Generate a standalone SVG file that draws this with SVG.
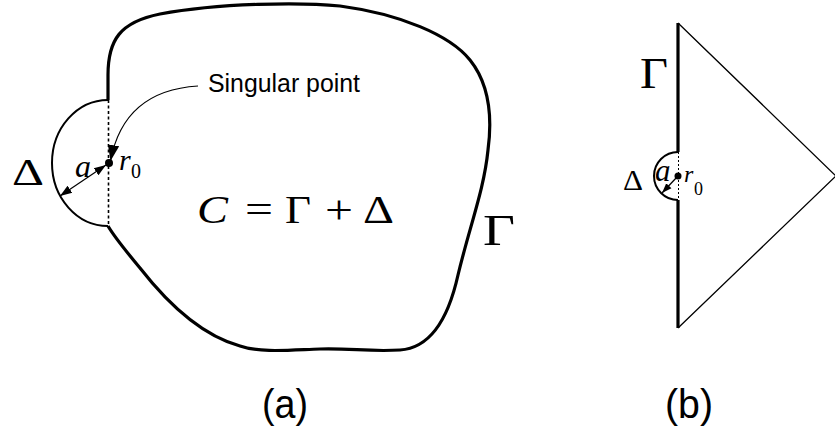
<svg xmlns="http://www.w3.org/2000/svg" width="835" height="435" viewBox="0 0 835 435">
<style>
.thick{fill:none;stroke:#000;stroke-width:3.2;stroke-linejoin:round}
.arc{fill:none;stroke:#000;stroke-width:2}
.dash{fill:none;stroke:#000;stroke-width:1.6;stroke-dasharray:3 2.5}
.dashb{fill:none;stroke:#000;stroke-width:1;stroke-dasharray:2 2}
.thin{fill:none;stroke:#000;stroke-width:1.3}
.ptr{fill:none;stroke:#000;stroke-width:1.2}
.serif{font-family:"Liberation Serif",serif;fill:#000}
.it{font-style:italic}
.sans{font-family:"Liberation Sans",Arial,sans-serif;fill:#000}
</style>
<defs>
<marker id="ah" markerUnits="userSpaceOnUse" markerWidth="16" markerHeight="12" viewBox="0 0 14 10" refX="14" refY="5" orient="auto-start-reverse">
<path d="M0,0 L14,5 L0,10 z" fill="#000"/>
</marker>
<marker id="ah2" markerUnits="userSpaceOnUse" markerWidth="12" markerHeight="10" viewBox="0 0 14 10" refX="14" refY="5" orient="auto-start-reverse">
<path d="M0,0 L14,5 L0,10 z" fill="#000"/>
</marker>
<marker id="ahb" markerUnits="userSpaceOnUse" markerWidth="10" markerHeight="9" viewBox="0 0 14 10" refX="14" refY="5" orient="auto">
<path d="M0,0 L14,5 L0,10 z" fill="#000"/>
</marker>
</defs>

<g id="figure-a">
<g id="boundary-gamma">
<path class="thick" d="M108,100 L108,75 C108,40 120,22 160,14 C220,3 300,2 340,6 C400,14 450,35 470,60 C490,85 492,120 488,150 C484,190 470,225 458,275 C448,320 430,348 400,350 C370,352 350,348 320,349 C290,350 260,353 240,346 C200,335 165,300 140,268 C125,250 115,238 108,226"/>
</g>
<g id="delta-arc">
<path class="arc" d="M108,100 A56,63 0 0 0 108,226"/>
<path class="dash" d="M108.5,100 L108.5,226"/>
</g>
<g id="singular-point">
<circle cx="109" cy="163" r="4" fill="#000"/>
</g>
<g id="labels-a">
<text class="sans" x="208" y="92" font-size="26" textLength="152" lengthAdjust="spacingAndGlyphs">Singular point</text>
<text class="serif" x="12" y="185" font-size="37" textLength="32" lengthAdjust="spacingAndGlyphs">Δ</text>
<text class="serif it" x="75" y="177" font-size="32">a</text>
<text class="serif it" x="119" y="170" font-size="30">r</text>
<text class="serif" x="131" y="178" font-size="20">0</text>
<text class="serif it" x="197" y="223" font-size="40" textLength="31" lengthAdjust="spacingAndGlyphs">C</text>
<text class="serif" x="245" y="223" font-size="40" textLength="28" lengthAdjust="spacingAndGlyphs">=</text>
<text class="serif" x="285" y="223" font-size="40" textLength="26" lengthAdjust="spacingAndGlyphs">Γ</text>
<text class="serif" x="325" y="223" font-size="40" textLength="28" lengthAdjust="spacingAndGlyphs">+</text>
<text class="serif" x="363" y="223" font-size="40" textLength="31" lengthAdjust="spacingAndGlyphs">Δ</text>
<text class="serif" x="483" y="245" font-size="45" textLength="32" lengthAdjust="spacingAndGlyphs">Γ</text>
<text class="sans" x="262" y="418" font-size="41" textLength="46" lengthAdjust="spacingAndGlyphs">(a)</text>
</g>
</g>

<g id="figure-b">
<g id="boundary-b">
<path class="thick" d="M678,23 L678,152 M678,200 L678,328"/>
<path class="thin" d="M678,23 L836,176 L678,328"/>
</g>
<g id="delta-arc-b">
<path class="arc" d="M678,152 A24,24 0 0 0 678,200"/>
<path class="dashb" d="M678.5,152 L678.5,200"/>
</g>
<g id="singular-point-b">
<circle cx="678" cy="176" r="3.5" fill="#000"/>
</g>
<g id="labels-b">
<text class="serif" x="640" y="88" font-size="45" textLength="28" lengthAdjust="spacingAndGlyphs">Γ</text>
<text class="serif" x="623" y="190" font-size="29" textLength="20" lengthAdjust="spacingAndGlyphs">Δ</text>
<text class="serif it" x="655" y="181" font-size="31">a</text>
<text class="serif it" x="684" y="182" font-size="24">r</text>
<text class="serif" x="694" y="195" font-size="18">0</text>
<text class="sans" x="665" y="418" font-size="41" textLength="48" lengthAdjust="spacingAndGlyphs">(b)</text>
</g>
</g>

<g id="connectors">
<path class="ptr" d="M198,86 C165,88 122,100 110.5,161" marker-end="url(#ah)"/>
<path class="ptr" d="M106,165 L60,196" marker-start="url(#ah2)" marker-end="url(#ah2)"/>
<path class="ptr" d="M677,177 L662,193" marker-end="url(#ahb)"/>
</g>
</svg>
